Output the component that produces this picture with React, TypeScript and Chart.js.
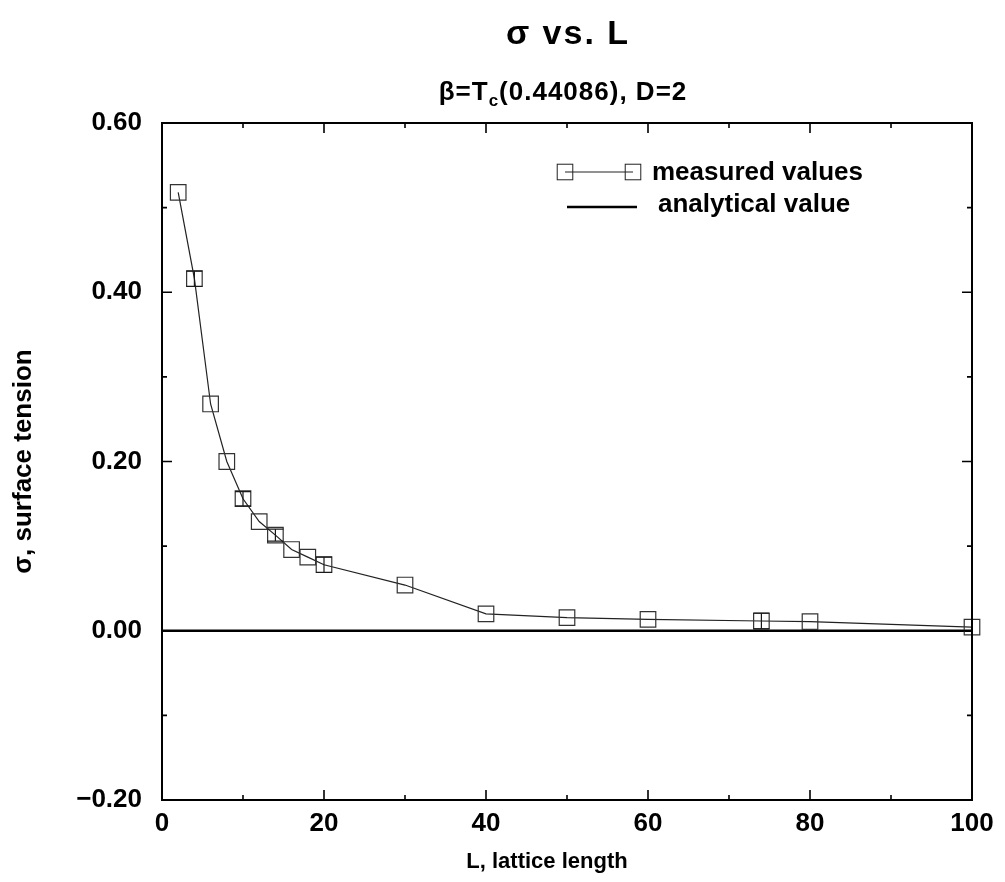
import React, { useEffect, useRef } from "react";
import { Chart, registerables } from "chart.js";

Chart.register(...registerables);

// ---- data ----
const latticeLength = [2, 4, 6, 8, 10, 12, 14, 16, 18, 20, 30, 40, 50, 60, 74, 80, 100];
const measuredSigma = [0.518, 0.416, 0.268, 0.2, 0.156, 0.129, 0.113, 0.096, 0.087, 0.078, 0.054, 0.02, 0.0155, 0.0135, 0.0115, 0.0108, 0.0043];
const sigmaError = [0, 0.009, 0, 0, 0.0085, 0, 0.007, 0, 0, 0.009, 0, 0, 0, 0, 0.0093, 0, 0];
const analyticalL = [0, 100];
const analyticalSigma = [0, 0];

// ---- axes / text ----
const xMin = 0, xMax = 100, xMajor = 20, xMinor = 10;
const yMin = -0.2, yMax = 0.6, yMajor = 0.2, yMinor = 0.1;
const chartTitle = "σ vs. L";
const subtitleMain = "β=T";
const subtitleSub = "c";
const subtitleRest = "(0.44086), D=2";
const xAxisTitle = "L, lattice length";
const yAxisTitle = "σ, surface tension";
const legendLabels = ["measured values", "analytical value"];

const FONT = '"Liberation Sans", Arial, Helvetica, sans-serif';
const BOX_RADIUS = 11; // rect side = 2*0.707*r

function isMultiple(v: number, step: number) {
  const q = v / step;
  return Math.abs(q - Math.round(q)) < 1e-6;
}

const decorPlugin = {
  id: "decor",
  afterDatasetsDraw(chart: any) {
    const { ctx, chartArea: a, scales } = chart;
    const xs = scales.x;
    const ys = scales.y;
    ctx.save();

    // error bars
    ctx.strokeStyle = "#1a1a1a";
    ctx.lineWidth = 1.2;
    latticeLength.forEach((L, i) => {
      const e = sigmaError[i];
      if (!e) return;
      const px = xs.getPixelForValue(L);
      const yTop = ys.getPixelForValue(measuredSigma[i] + e);
      const yBot = ys.getPixelForValue(measuredSigma[i] - e);
      ctx.beginPath();
      ctx.moveTo(px, yTop);
      ctx.lineTo(px, yBot);
      ctx.moveTo(px - 8, yTop);
      ctx.lineTo(px + 8, yTop);
      ctx.moveTo(px - 8, yBot);
      ctx.lineTo(px + 8, yBot);
      ctx.stroke();
    });

    // frame
    ctx.strokeStyle = "#000";
    ctx.lineWidth = 2;
    ctx.strokeRect(a.left, a.top, a.right - a.left, a.bottom - a.top);

    // inward tick marks on all four sides
    ctx.lineWidth = 1.6;
    ctx.beginPath();
    for (let v = xMin; v <= xMax + 1e-9; v += xMinor) {
      if (v <= xMin + 1e-9 || v >= xMax - 1e-9) continue;
      const len = isMultiple(v, xMajor) ? 10 : 5;
      const px = xs.getPixelForValue(v);
      ctx.moveTo(px, a.bottom);
      ctx.lineTo(px, a.bottom - len);
      ctx.moveTo(px, a.top);
      ctx.lineTo(px, a.top + len);
    }
    for (let k = 0; ; k++) {
      const v = yMin + k * yMinor;
      if (v > yMax + 1e-9) break;
      if (k === 0 || v >= yMax - 1e-9) continue;
      const len = isMultiple(v - yMin, yMajor) ? 10 : 5;
      const py = ys.getPixelForValue(v);
      ctx.moveTo(a.left, py);
      ctx.lineTo(a.left + len, py);
      ctx.moveTo(a.right, py);
      ctx.lineTo(a.right - len, py);
    }
    ctx.stroke();
    ctx.restore();
  },
  afterDraw(chart: any) {
    const { ctx, chartArea: a } = chart;
    const cx = (a.left + a.right) / 2;
    ctx.save();
    ctx.fillStyle = "#000";
    ctx.textBaseline = "alphabetic";

    // title
    ctx.textAlign = "center";
    ctx.font = `bold 34px ${FONT}`;
    (ctx as any).letterSpacing = "2px";
    ctx.fillText(chartTitle, cx + 1, 44);

    // subtitle with subscript
    ctx.textAlign = "left";
    (ctx as any).letterSpacing = "1px";
    ctx.font = `bold 26px ${FONT}`;
    const w1 = ctx.measureText(subtitleMain).width;
    const w3 = ctx.measureText(subtitleRest).width;
    ctx.font = `bold 17px ${FONT}`;
    const w2 = ctx.measureText(subtitleSub).width;
    let sx = cx - 4 - (w1 + w2 + w3) / 2;
    ctx.font = `bold 26px ${FONT}`;
    ctx.fillText(subtitleMain, sx, 100);
    sx += w1;
    ctx.font = `bold 17px ${FONT}`;
    ctx.fillText(subtitleSub, sx, 106);
    sx += w2;
    ctx.font = `bold 26px ${FONT}`;
    ctx.fillText(subtitleRest, sx, 100);
    (ctx as any).letterSpacing = "0px";

    // x axis title
    ctx.textAlign = "center";
    ctx.font = `bold 22px ${FONT}`;
    ctx.fillText(xAxisTitle, cx - 20, 868);

    // legend
    const lx0 = a.right - 407;
    const lx1 = a.right - 339;
    const y1 = a.top + 49;
    const y2 = a.top + 84;
    const half = BOX_RADIUS * Math.SQRT1_2;
    ctx.strokeStyle = "#222";
    ctx.lineWidth = 1;
    ctx.beginPath();
    ctx.moveTo(lx0, y1);
    ctx.lineTo(lx1, y1);
    ctx.stroke();
    ctx.strokeRect(lx0 - half, y1 - half, 2 * half, 2 * half);
    ctx.strokeRect(lx1 - half, y1 - half, 2 * half, 2 * half);
    ctx.strokeStyle = "#000";
    ctx.lineWidth = 2.5;
    ctx.beginPath();
    ctx.moveTo(a.right - 405, y2);
    ctx.lineTo(a.right - 335, y2);
    ctx.stroke();
    ctx.textAlign = "left";
    ctx.font = `bold 26px ${FONT}`;
    ctx.fillText(legendLabels[0], a.right - 320, y1 + 8);
    ctx.fillText(legendLabels[1], a.right - 314, y2 + 5);
    ctx.restore();
  },
};

export default function App() {
  const ref = useRef<HTMLCanvasElement>(null);

  useEffect(() => {
    const measured = latticeLength.map((L, i) => ({ x: L, y: measuredSigma[i] }));
    const analytical = analyticalL.map((L, i) => ({ x: L, y: analyticalSigma[i] }));
    const tickFont = { family: FONT, size: 26, weight: "bold" as const };

    const chart = new Chart(ref.current as HTMLCanvasElement, {
      type: "line",
      data: {
        datasets: [
          {
            label: legendLabels[0],
            data: measured,
            borderColor: "#222",
            borderWidth: 1.2,
            pointStyle: "rect",
            pointRadius: BOX_RADIUS,
            pointBorderWidth: 1.2,
            pointBorderColor: "#333",
            pointBackgroundColor: "rgba(0,0,0,0)",
            tension: 0,
            clip: false as any,
          },
          {
            label: legendLabels[1],
            data: analytical,
            borderColor: "#000",
            borderWidth: 2.6,
            pointRadius: 0,
            tension: 0,
          },
        ],
      },
      options: {
        animation: false,
        responsive: false,
        devicePixelRatio: 1,
        layout: { padding: { top: 123, right: 33, left: 0, bottom: 0 } },
        plugins: {
          legend: { display: false },
          title: { display: false },
          tooltip: { enabled: false },
        },
        scales: {
          x: {
            type: "linear",
            min: xMin,
            max: xMax,
            grid: { display: false, drawTicks: false },
            border: { display: false },
            ticks: {
              stepSize: xMajor,
              color: "#000",
              font: tickFont,
              padding: 8,
              maxRotation: 0,
            },
            afterFit: (s: any) => {
              s.height = 82;
            },
          },
          y: {
            type: "linear",
            min: yMin,
            max: yMax,
            grid: { display: false, drawTicks: false },
            border: { display: false },
            ticks: {
              stepSize: yMajor,
              color: "#000",
              font: tickFont,
              padding: 20,
              callback: (v: any) => {
                const n = Number(v);
                const s = Math.abs(n).toFixed(2);
                return n < -1e-9 ? "\u2212" + s : s;
              },
            },
            title: {
              display: true,
              text: yAxisTitle,
              color: "#000",
              font: { family: FONT, size: 26, weight: "bold" },
              padding: { top: 8, bottom: 0 },
            },
            afterFit: (s: any) => {
              s.width = 162;
            },
          },
        },
      },
      plugins: [decorPlugin],
    });
    return () => chart.destroy();
  }, []);

  return (
    <div style={{ position: "absolute", left: 0, top: 0, width: 1005, height: 882, background: "#fff" }}>
      <canvas ref={ref} width={1005} height={882} style={{ display: "block" }} />
    </div>
  );
}
